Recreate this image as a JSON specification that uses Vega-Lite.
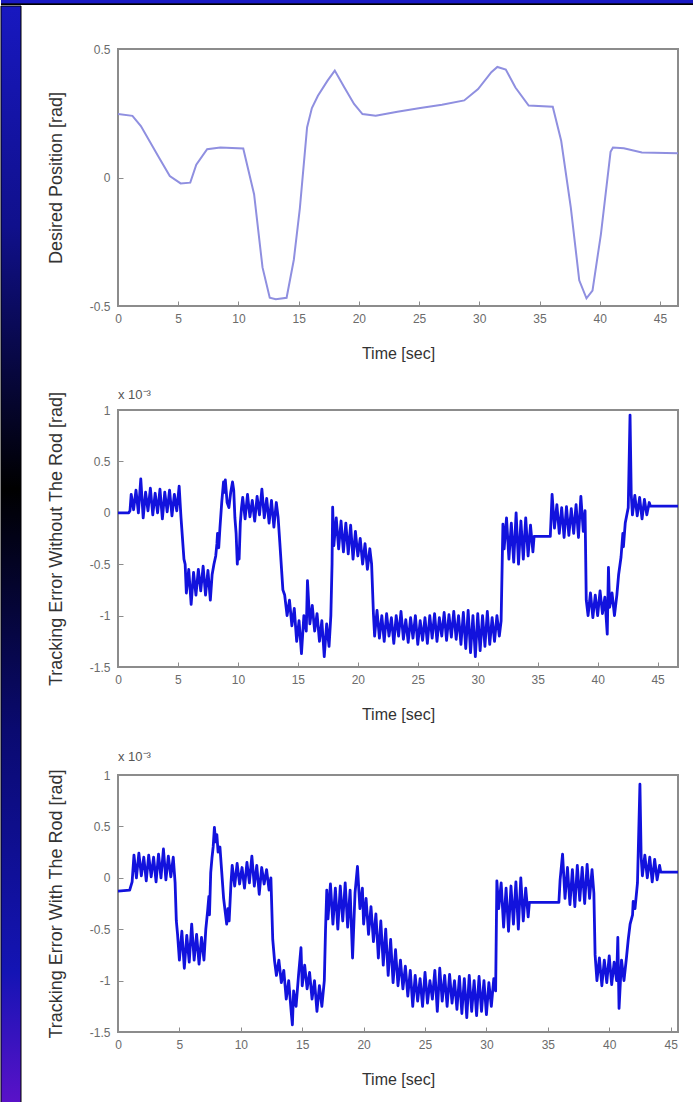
{
  "$schema": "https://vega.github.io/schema/vega-lite/v6.json",
  "padding": 0,
  "background": "white",
  "config": {
    "font": "Liberation Sans",
    "view": {"stroke": null},
    "axisX": {"titleFontSize": 16, "titleFontWeight": "normal", "titleColor": "#333333", "labelFontSize": 12, "labelColor": "#6b6b6b", "domain": false, "grid": false, "tickSize": -5, "tickColor": "#8c8c8c", "labelPadding": 12, "titlePadding": 19, "minExtent": 20, "maxExtent": 20, "labelFlush": false, "labelOverlap": false},
    "axisY": {"titleFontSize": 18, "titleFontWeight": "normal", "titleColor": "#333333", "labelFontSize": 12, "labelColor": "#6b6b6b", "domain": false, "grid": false, "tickSize": -5, "tickColor": "#8c8c8c", "labelPadding": 13, "titlePadding": 13, "minExtent": 40, "maxExtent": 40, "labelFlush": false, "labelOverlap": false},
    "title": {"fontSize": 13, "fontWeight": "normal", "color": "#555555", "anchor": "start", "frame": "group"}
  },
  "datasets": {
    "frame": [{"part": "frame"}],
    "p1": [{"t":0,"v":0.247},{"t":1.2,"v":0.24},{"t":1.9,"v":0.2},{"t":3.4,"v":0.078},{"t":4.3,"v":0.006},{"t":5.2,"v":-0.023},{"t":6.0,"v":-0.02},{"t":6.5,"v":0.05},{"t":7.4,"v":0.11},{"t":8.5,"v":0.117},{"t":10.4,"v":0.113},{"t":11.3,"v":-0.065},{"t":12.0,"v":-0.35},{"t":12.6,"v":-0.468},{"t":13.1,"v":-0.474},{"t":14.0,"v":-0.468},{"t":14.6,"v":-0.32},{"t":15.1,"v":-0.12},{"t":15.7,"v":0.195},{"t":16.1,"v":0.27},{"t":16.6,"v":0.318},{"t":17.4,"v":0.377},{"t":18.0,"v":0.416},{"t":18.8,"v":0.35},{"t":19.6,"v":0.286},{"t":20.3,"v":0.247},{"t":21.4,"v":0.24},{"t":23.2,"v":0.256},{"t":25.1,"v":0.27},{"t":26.9,"v":0.283},{"t":28.75,"v":0.3},{"t":29.9,"v":0.344},{"t":31.0,"v":0.41},{"t":31.5,"v":0.43},{"t":32.2,"v":0.42},{"t":33.0,"v":0.35},{"t":34.1,"v":0.28},{"t":36.1,"v":0.275},{"t":36.8,"v":0.143},{"t":37.6,"v":-0.117},{"t":38.3,"v":-0.4},{"t":38.9,"v":-0.47},{"t":39.4,"v":-0.44},{"t":40.1,"v":-0.22},{"t":40.9,"v":0.1},{"t":41.1,"v":0.117},{"t":42.0,"v":0.114},{"t":43.5,"v":0.097},{"t":46.5,"v":0.094}],
    "p2": [{"t":0,"v":0},{"t":0.9,"v":0},{"t":1.0,"v":0.02},{"t":1.1,"v":0.18},{"t":1.3,"v":0.03},{"t":1.5,"v":0.22},{"t":1.7,"v":0.0},{"t":1.9,"v":0.33},{"t":2.1,"v":-0.05},{"t":2.3,"v":0.2},{"t":2.5,"v":0.02},{"t":2.7,"v":0.24},{"t":2.9,"v":-0.02},{"t":3.1,"v":0.19},{"t":3.3,"v":0.0},{"t":3.5,"v":0.23},{"t":3.7,"v":-0.06},{"t":3.9,"v":0.2},{"t":4.1,"v":0.01},{"t":4.3,"v":0.22},{"t":4.5,"v":-0.03},{"t":4.7,"v":0.18},{"t":4.9,"v":0.02},{"t":5.1,"v":0.26},{"t":5.25,"v":-0.04},{"t":5.5,"v":-0.45},{"t":5.6,"v":-0.5},{"t":5.7,"v":-0.78},{"t":5.9,"v":-0.55},{"t":6.1,"v":-0.89},{"t":6.3,"v":-0.58},{"t":6.5,"v":-0.8},{"t":6.7,"v":-0.55},{"t":6.9,"v":-0.76},{"t":7.1,"v":-0.52},{"t":7.3,"v":-0.8},{"t":7.5,"v":-0.56},{"t":7.7,"v":-0.85},{"t":7.85,"v":-0.6},{"t":8.0,"v":-0.5},{"t":8.15,"v":-0.42},{"t":8.25,"v":-0.3},{"t":8.3,"v":-0.2},{"t":8.4,"v":-0.34},{"t":8.5,"v":-0.15},{"t":8.65,"v":0.1},{"t":8.8,"v":0.3},{"t":8.9,"v":0.2},{"t":8.95,"v":0.32},{"t":9.1,"v":0.1},{"t":9.25,"v":0.05},{"t":9.4,"v":0.2},{"t":9.55,"v":0.3},{"t":9.65,"v":0.22},{"t":9.75,"v":-0.05},{"t":9.85,"v":-0.2},{"t":9.95,"v":-0.5},{"t":10.0,"v":-0.38},{"t":10.1,"v":-0.45},{"t":10.2,"v":-0.1},{"t":10.3,"v":0.05},{"t":10.4,"v":0.15},{"t":10.6,"v":-0.06},{"t":10.8,"v":0.18},{"t":11.0,"v":-0.04},{"t":11.2,"v":0.12},{"t":11.4,"v":-0.08},{"t":11.6,"v":0.16},{"t":11.8,"v":-0.02},{"t":12.0,"v":0.23},{"t":12.2,"v":-0.05},{"t":12.4,"v":0.14},{"t":12.6,"v":-0.1},{"t":12.8,"v":0.12},{"t":13.0,"v":-0.14},{"t":13.2,"v":0.1},{"t":13.35,"v":-0.04},{"t":13.5,"v":-0.3},{"t":13.75,"v":-0.75},{"t":13.9,"v":-0.8},{"t":14.1,"v":-1.0},{"t":14.3,"v":-0.85},{"t":14.5,"v":-1.1},{"t":14.7,"v":-0.93},{"t":14.9,"v":-1.25},{"t":15.1,"v":-1.05},{"t":15.3,"v":-1.37},{"t":15.5,"v":-1.0},{"t":15.7,"v":-1.15},{"t":15.8,"v":-0.66},{"t":16.0,"v":-1.08},{"t":16.2,"v":-0.9},{"t":16.4,"v":-1.15},{"t":16.6,"v":-0.98},{"t":16.8,"v":-1.25},{"t":17.0,"v":-1.05},{"t":17.2,"v":-1.4},{"t":17.4,"v":-1.08},{"t":17.6,"v":-1.3},{"t":17.75,"v":-1.0},{"t":17.85,"v":-0.5},{"t":17.9,"v":0.055},{"t":18.0,"v":-0.32},{"t":18.2,"v":-0.05},{"t":18.4,"v":-0.35},{"t":18.6,"v":-0.08},{"t":18.8,"v":-0.38},{"t":19.0,"v":-0.1},{"t":19.2,"v":-0.4},{"t":19.4,"v":-0.12},{"t":19.6,"v":-0.45},{"t":19.8,"v":-0.18},{"t":20.0,"v":-0.42},{"t":20.2,"v":-0.25},{"t":20.4,"v":-0.5},{"t":20.6,"v":-0.3},{"t":20.8,"v":-0.55},{"t":21.0,"v":-0.35},{"t":21.15,"v":-0.5},{"t":21.3,"v":-0.98},{"t":21.4,"v":-1.2},{"t":21.6,"v":-0.95},{"t":21.8,"v":-1.22},{"t":22.0,"v":-1.0},{"t":22.2,"v":-1.25},{"t":22.4,"v":-0.98},{"t":22.6,"v":-1.2},{"t":22.8,"v":-1.02},{"t":23.0,"v":-1.27},{"t":23.2,"v":-1.0},{"t":23.4,"v":-1.2},{"t":23.6,"v":-0.96},{"t":23.8,"v":-1.23},{"t":24.0,"v":-1.04},{"t":24.2,"v":-1.26},{"t":24.4,"v":-1.02},{"t":24.6,"v":-1.22},{"t":24.8,"v":-1.0},{"t":25.0,"v":-1.28},{"t":25.2,"v":-1.05},{"t":25.4,"v":-1.24},{"t":25.6,"v":-1.02},{"t":25.8,"v":-1.27},{"t":26.0,"v":-1.0},{"t":26.2,"v":-1.22},{"t":26.4,"v":-0.98},{"t":26.6,"v":-1.25},{"t":26.8,"v":-1.02},{"t":27.0,"v":-1.2},{"t":27.2,"v":-0.97},{"t":27.4,"v":-1.24},{"t":27.6,"v":-0.99},{"t":27.8,"v":-1.21},{"t":28.0,"v":-0.96},{"t":28.2,"v":-1.23},{"t":28.4,"v":-1.0},{"t":28.6,"v":-1.28},{"t":28.8,"v":-0.97},{"t":29.0,"v":-1.32},{"t":29.2,"v":-0.95},{"t":29.4,"v":-1.36},{"t":29.6,"v":-1.0},{"t":29.8,"v":-1.4},{"t":30.0,"v":-0.98},{"t":30.2,"v":-1.34},{"t":30.4,"v":-1.0},{"t":30.6,"v":-1.3},{"t":30.8,"v":-0.96},{"t":31.0,"v":-1.28},{"t":31.2,"v":-1.02},{"t":31.4,"v":-1.25},{"t":31.6,"v":-1.0},{"t":31.8,"v":-1.2},{"t":31.95,"v":-1.05},{"t":32.1,"v":-0.11},{"t":32.2,"v":-0.35},{"t":32.4,"v":-0.05},{"t":32.6,"v":-0.45},{"t":32.8,"v":-0.1},{"t":33.0,"v":-0.48},{"t":33.2,"v":0.0},{"t":33.4,"v":-0.5},{"t":33.6,"v":-0.08},{"t":33.8,"v":-0.45},{"t":34.0,"v":-0.05},{"t":34.2,"v":-0.42},{"t":34.4,"v":-0.12},{"t":34.6,"v":-0.38},{"t":34.7,"v":-0.23},{"t":36.05,"v":-0.23},{"t":36.2,"v":0.18},{"t":36.4,"v":-0.15},{"t":36.6,"v":0.08},{"t":36.8,"v":-0.2},{"t":37.0,"v":0.05},{"t":37.2,"v":-0.24},{"t":37.4,"v":0.06},{"t":37.6,"v":-0.22},{"t":37.8,"v":0.04},{"t":38.0,"v":-0.2},{"t":38.2,"v":0.08},{"t":38.4,"v":-0.24},{"t":38.6,"v":0.16},{"t":38.8,"v":-0.18},{"t":38.95,"v":0.02},{"t":39.05,"v":-0.85},{"t":39.2,"v":-1.0},{"t":39.4,"v":-0.78},{"t":39.6,"v":-1.02},{"t":39.8,"v":-0.8},{"t":40.0,"v":-1.0},{"t":40.2,"v":-0.76},{"t":40.4,"v":-0.98},{"t":40.6,"v":-0.82},{"t":40.8,"v":-1.18},{"t":40.9,"v":-0.53},{"t":41.0,"v":-0.92},{"t":41.2,"v":-0.78},{"t":41.4,"v":-1.0},{"t":41.6,"v":-0.8},{"t":41.75,"v":-0.6},{"t":41.95,"v":-0.43},{"t":42.1,"v":-0.2},{"t":42.15,"v":-0.33},{"t":42.3,"v":-0.1},{"t":42.55,"v":0.05},{"t":42.7,"v":0.95},{"t":42.8,"v":0.18},{"t":42.9,"v":-0.02},{"t":43.1,"v":0.17},{"t":43.3,"v":-0.03},{"t":43.5,"v":0.15},{"t":43.7,"v":-0.06},{"t":43.9,"v":0.13},{"t":44.1,"v":-0.02},{"t":44.3,"v":0.1},{"t":44.4,"v":0.065},{"t":46.7,"v":0.065}],
    "p3": [{"t":0,"v":-0.13},{"t":0.95,"v":-0.12},{"t":1.15,"v":-0.04},{"t":1.3,"v":0.22},{"t":1.5,"v":0.0},{"t":1.7,"v":0.24},{"t":1.9,"v":0.02},{"t":2.1,"v":0.2},{"t":2.3,"v":-0.03},{"t":2.5,"v":0.22},{"t":2.7,"v":0.01},{"t":2.9,"v":0.2},{"t":3.1,"v":-0.04},{"t":3.3,"v":0.23},{"t":3.5,"v":0.0},{"t":3.7,"v":0.28},{"t":3.9,"v":-0.02},{"t":4.1,"v":0.21},{"t":4.3,"v":0.01},{"t":4.5,"v":0.2},{"t":4.65,"v":-0.05},{"t":4.75,"v":-0.42},{"t":4.85,"v":-0.55},{"t":5.0,"v":-0.8},{"t":5.2,"v":-0.52},{"t":5.4,"v":-0.88},{"t":5.6,"v":-0.56},{"t":5.8,"v":-0.82},{"t":6.0,"v":-0.45},{"t":6.2,"v":-0.8},{"t":6.4,"v":-0.55},{"t":6.6,"v":-0.84},{"t":6.8,"v":-0.58},{"t":7.0,"v":-0.8},{"t":7.15,"v":-0.5},{"t":7.3,"v":-0.32},{"t":7.4,"v":-0.18},{"t":7.45,"v":-0.36},{"t":7.55,"v":0.05},{"t":7.65,"v":0.19},{"t":7.75,"v":0.3},{"t":7.85,"v":0.49},{"t":7.95,"v":0.35},{"t":8.05,"v":0.42},{"t":8.15,"v":0.25},{"t":8.3,"v":0.3},{"t":8.45,"v":0.05},{"t":8.6,"v":-0.2},{"t":8.75,"v":-0.35},{"t":8.85,"v":-0.45},{"t":8.95,"v":-0.3},{"t":9.05,"v":-0.42},{"t":9.2,"v":-0.05},{"t":9.3,"v":0.12},{"t":9.5,"v":-0.08},{"t":9.7,"v":0.14},{"t":9.9,"v":-0.06},{"t":10.1,"v":0.1},{"t":10.3,"v":-0.1},{"t":10.5,"v":0.15},{"t":10.7,"v":-0.05},{"t":10.9,"v":0.21},{"t":11.1,"v":-0.08},{"t":11.3,"v":0.12},{"t":11.5,"v":-0.16},{"t":11.7,"v":0.1},{"t":11.9,"v":-0.06},{"t":12.1,"v":0.08},{"t":12.3,"v":-0.12},{"t":12.45,"v":0.0},{"t":12.6,"v":-0.6},{"t":12.75,"v":-0.81},{"t":12.9,"v":-0.95},{"t":13.1,"v":-0.8},{"t":13.3,"v":-1.02},{"t":13.5,"v":-0.9},{"t":13.7,"v":-1.18},{"t":13.9,"v":-1.0},{"t":14.1,"v":-1.3},{"t":14.2,"v":-1.43},{"t":14.3,"v":-1.1},{"t":14.5,"v":-1.25},{"t":14.7,"v":-0.95},{"t":14.9,"v":-0.68},{"t":15.0,"v":-1.05},{"t":15.2,"v":-0.85},{"t":15.4,"v":-1.08},{"t":15.6,"v":-0.92},{"t":15.8,"v":-1.18},{"t":16.0,"v":-1.0},{"t":16.2,"v":-1.3},{"t":16.4,"v":-1.05},{"t":16.6,"v":-1.25},{"t":16.8,"v":-1.0},{"t":16.9,"v":-0.5},{"t":17.0,"v":-0.12},{"t":17.1,"v":-0.4},{"t":17.3,"v":-0.06},{"t":17.5,"v":-0.45},{"t":17.7,"v":-0.1},{"t":17.9,"v":-0.5},{"t":18.1,"v":-0.08},{"t":18.3,"v":-0.42},{"t":18.5,"v":-0.05},{"t":18.7,"v":-0.48},{"t":18.9,"v":-0.12},{"t":19.1,"v":-0.78},{"t":19.3,"v":-0.15},{"t":19.5,"v":0.11},{"t":19.7,"v":-0.3},{"t":19.9,"v":-0.1},{"t":20.0,"v":-0.45},{"t":20.2,"v":-0.2},{"t":20.4,"v":-0.55},{"t":20.6,"v":-0.28},{"t":20.8,"v":-0.62},{"t":21.0,"v":-0.35},{"t":21.2,"v":-0.78},{"t":21.4,"v":-0.42},{"t":21.6,"v":-0.85},{"t":21.8,"v":-0.5},{"t":22.0,"v":-0.95},{"t":22.2,"v":-0.6},{"t":22.4,"v":-1.02},{"t":22.6,"v":-0.7},{"t":22.8,"v":-1.05},{"t":23.0,"v":-0.8},{"t":23.2,"v":-1.08},{"t":23.4,"v":-0.86},{"t":23.6,"v":-1.15},{"t":23.8,"v":-0.9},{"t":24.0,"v":-1.25},{"t":24.2,"v":-0.95},{"t":24.4,"v":-1.2},{"t":24.6,"v":-0.98},{"t":24.8,"v":-1.25},{"t":25.0,"v":-0.92},{"t":25.2,"v":-1.22},{"t":25.4,"v":-1.0},{"t":25.6,"v":-1.18},{"t":25.8,"v":-0.9},{"t":26.0,"v":-1.3},{"t":26.2,"v":-0.88},{"t":26.4,"v":-1.2},{"t":26.6,"v":-0.95},{"t":26.8,"v":-1.25},{"t":27.0,"v":-0.94},{"t":27.2,"v":-1.22},{"t":27.4,"v":-1.0},{"t":27.6,"v":-1.28},{"t":27.8,"v":-0.96},{"t":28.0,"v":-1.32},{"t":28.2,"v":-0.98},{"t":28.4,"v":-1.36},{"t":28.6,"v":-0.95},{"t":28.8,"v":-1.3},{"t":29.0,"v":-1.0},{"t":29.2,"v":-1.34},{"t":29.4,"v":-0.96},{"t":29.6,"v":-1.3},{"t":29.8,"v":-1.0},{"t":30.0,"v":-1.33},{"t":30.2,"v":-1.02},{"t":30.4,"v":-1.25},{"t":30.6,"v":-0.98},{"t":30.75,"v":-1.1},{"t":30.85,"v":-0.03},{"t":31.0,"v":-0.3},{"t":31.2,"v":-0.05},{"t":31.4,"v":-0.48},{"t":31.6,"v":-0.1},{"t":31.8,"v":-0.52},{"t":32.0,"v":-0.08},{"t":32.2,"v":-0.45},{"t":32.4,"v":-0.04},{"t":32.6,"v":-0.5},{"t":32.8,"v":0.0},{"t":33.0,"v":-0.42},{"t":33.2,"v":-0.1},{"t":33.4,"v":-0.38},{"t":33.5,"v":-0.24},{"t":35.9,"v":-0.24},{"t":36.0,"v":-0.02},{"t":36.2,"v":0.23},{"t":36.4,"v":-0.2},{"t":36.6,"v":0.1},{"t":36.8,"v":-0.26},{"t":37.0,"v":0.08},{"t":37.2,"v":-0.28},{"t":37.4,"v":0.12},{"t":37.6,"v":-0.22},{"t":37.8,"v":0.1},{"t":38.0,"v":-0.25},{"t":38.2,"v":0.13},{"t":38.4,"v":-0.2},{"t":38.6,"v":0.08},{"t":38.75,"v":-0.15},{"t":38.85,"v":-0.75},{"t":39.0,"v":-1.0},{"t":39.2,"v":-0.78},{"t":39.4,"v":-1.05},{"t":39.6,"v":-0.8},{"t":39.8,"v":-1.02},{"t":40.0,"v":-0.76},{"t":40.2,"v":-1.04},{"t":40.4,"v":-0.82},{"t":40.6,"v":-1.0},{"t":40.7,"v":-0.58},{"t":40.8,"v":-1.27},{"t":41.0,"v":-0.8},{"t":41.2,"v":-1.0},{"t":41.4,"v":-0.78},{"t":41.55,"v":-0.6},{"t":41.7,"v":-0.45},{"t":41.9,"v":-0.36},{"t":41.95,"v":-0.23},{"t":42.1,"v":-0.3},{"t":42.3,"v":-0.05},{"t":42.5,"v":0.91},{"t":42.6,"v":0.2},{"t":42.7,"v":0.02},{"t":42.9,"v":0.22},{"t":43.1,"v":0.0},{"t":43.3,"v":0.2},{"t":43.5,"v":-0.04},{"t":43.7,"v":0.18},{"t":43.9,"v":-0.02},{"t":44.1,"v":0.12},{"t":44.2,"v":0.055},{"t":45.6,"v":0.055}]
  },
  "spacing": 0,
  "vconcat": [
    {
      "width": 693, "height": 5,
      "data": {"name": "frame"},
      "mark": {"type": "rect", "fill": {"gradient": "linear", "x1": 0, "y1": 0, "x2": 0, "y2": 1, "stops": [{"offset": 0, "color": "#1a1ac4"}, {"offset": 0.66, "color": "#1a1ac4"}, {"offset": 0.72, "color": "#000000"}, {"offset": 1, "color": "#000000"}]}},
      "encoding": {}
    },
    {
      "spacing": 23,
      "hconcat": [
        {
          "width": 20, "height": 1097,
          "data": {"name": "frame"},
          "mark": {"type": "rect", "stroke": "#000000", "strokeWidth": 1, "fill": {"gradient": "linear", "x1": 0, "y1": 0, "x2": 0, "y2": 1, "stops": [{"offset": 0, "color": "#1818c0"}, {"offset": 0.2, "color": "#10108c"}, {"offset": 0.44, "color": "#000000"}, {"offset": 0.66, "color": "#0a0a70"}, {"offset": 0.88, "color": "#1414b4"}, {"offset": 1, "color": "#5a12c8"}]}},
          "encoding": {}
        },
        {
          "spacing": 26,
          "vconcat": [
            {
              "width": 560, "height": 10,
              "data": {"name": "frame"},
              "mark": {"type": "rect", "opacity": 0},
              "encoding": {}
            },
            {
              "width": 560, "height": 257,
              "view": {"stroke": "#8c8c8c", "strokeWidth": 2},
              "data": {"name": "p1"},
              "mark": {"type": "line", "color": "#8f8fe0", "strokeWidth": 2, "clip": true},
              "encoding": {
                "x": {"field": "t", "type": "quantitative", "scale": {"domain": [0, 46.5], "nice": false, "zero": false}, "axis": {"title": "Time [sec]", "values": [0, 5, 10, 15, 20, 25, 30, 35, 40, 45], "labelExpr": "datum.value + ''"}},
                "y": {"field": "v", "type": "quantitative", "scale": {"domain": [-0.5, 0.5], "nice": false, "zero": false}, "axis": {"title": "Desired Position [rad]", "values": [-0.5, 0, 0.5], "labelExpr": "datum.value + ''"}}
              }
            },
            {
              "width": 560, "height": 257,
              "title": {"text": "x 10⁻³", "offset": -11},
              "view": {"stroke": "#8c8c8c", "strokeWidth": 2},
              "data": {"name": "p2"},
              "mark": {"type": "line", "color": "#1212dd", "strokeWidth": 2.8, "strokeJoin": "round", "clip": true},
              "encoding": {
                "x": {"field": "t", "type": "quantitative", "scale": {"domain": [0, 46.7], "nice": false, "zero": false}, "axis": {"title": "Time [sec]", "values": [0, 5, 10, 15, 20, 25, 30, 35, 40, 45], "labelExpr": "datum.value + ''"}},
                "y": {"field": "v", "type": "quantitative", "scale": {"domain": [-1.5, 1], "nice": false, "zero": false}, "axis": {"title": "Tracking Error Without The Rod [rad]", "values": [-1.5, -1, -0.5, 0, 0.5, 1], "labelExpr": "datum.value + ''"}}
              }
            },
            {
              "width": 560, "height": 257,
              "title": {"text": "x 10⁻³", "offset": 5},
              "view": {"stroke": "#8c8c8c", "strokeWidth": 2},
              "data": {"name": "p3"},
              "mark": {"type": "line", "color": "#1212dd", "strokeWidth": 2.8, "strokeJoin": "round", "clip": true},
              "encoding": {
                "x": {"field": "t", "type": "quantitative", "scale": {"domain": [0, 45.6], "nice": false, "zero": false}, "axis": {"title": "Time [sec]", "values": [0, 5, 10, 15, 20, 25, 30, 35, 40, 45], "labelExpr": "datum.value + ''"}},
                "y": {"field": "v", "type": "quantitative", "scale": {"domain": [-1.5, 1], "nice": false, "zero": false}, "axis": {"title": "Tracking Error With The Rod [rad]", "values": [-1.5, -1, -0.5, 0, 0.5, 1], "labelExpr": "datum.value + ''"}}
              }
            }
          ]
        }
      ]
    }
  ]
}
